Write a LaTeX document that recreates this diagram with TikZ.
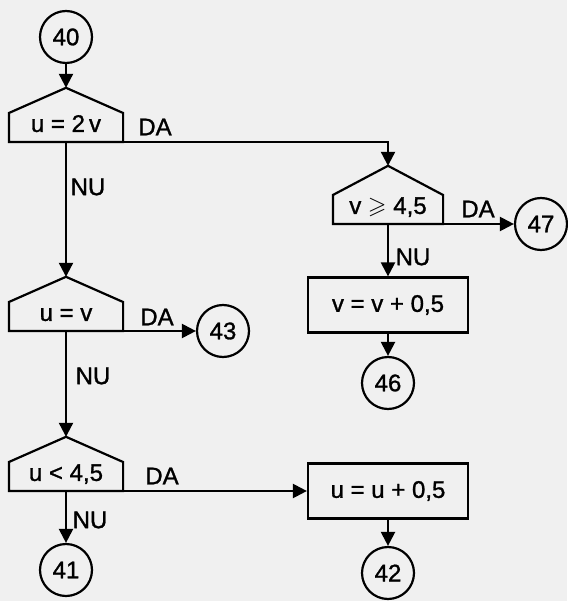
\documentclass[tikz,border=0pt]{standalone}
\usepackage{fontspec}
\setmainfont{Liberation Sans}[UprightFeatures={FakeBold=1.2}]
\usepackage{amssymb}
\usetikzlibrary{arrows.meta}

\begin{document}
\begin{tikzpicture}[x=1pt, y=-1pt, >={Triangle[length=14pt, width=14pt]},
  line width=2.2pt, font=\fontsize{24}{27}\selectfont,
  conn/.style={draw, circle, minimum size=52pt, inner sep=0pt},
  proc/.style={draw, rectangle, minimum width=160pt, minimum height=55pt, inner sep=0pt},
  decision/.style={inner sep=0pt, minimum width=112pt, text height=43pt, text depth=9pt,
    append after command={\pgfextra{\draw[line join=miter] (\tikzlastnode.south west)
      -- ([yshift=29pt]\tikzlastnode.south west) -- (\tikzlastnode.north)
      -- ([yshift=29pt]\tikzlastnode.south east) -- (\tikzlastnode.south east) -- cycle;}}},
  lbl/.style={inner sep=1pt}]

\fill[black!6] (0,0) rectangle (567,601);
\useasboundingbox (0,0) rectangle (567,601);

% --- left column ---
\node[conn] (c40) at (66,37) {40};
\node[decision, anchor=south] (d1) at (66,142) {u = 2\,v};
\node[lbl] (da1) at (155,127) {DA};
\node[lbl] (nu1) at (88,187) {NU};
\node[decision, anchor=south] (d2) at (66,331) {u = v};
\node[lbl] (da2) at (157,317) {DA};
\node[conn] (c43) at (223,331) {43};
\node[lbl] (nu2) at (93,376) {NU};
\node[decision, anchor=south] (d3) at (66,491) {u < 4,5};
\node[lbl] (da3) at (162,476) {DA};
\node[lbl] (nu3) at (90,520) {NU};
\node[conn] (c41) at (66,570) {41};

% --- right column ---
\node[decision, anchor=south, minimum width=108pt, text height=47pt] (d4) at (388,224) {v $\geqslant$ 4,5};
\node[lbl] (da4) at (478,209) {DA};
\node[conn] (c47) at (541,224) {47};
\node[lbl] (nu4) at (413,257) {NU};
\node[proc] (b1) at (388,305) {v = v + 0,5};
\node[conn] (c46) at (388,383) {46};
\node[proc] (b2) at (388,491) {u = u + 0,5};
\node[conn] (c42) at (388,573) {42};

% flow lines
\draw[->] (c40) -- (d1.north);
\draw[->] (d1.south) -- (d2.north);
\draw[->] (d1.south east) -| (d4.north);
\draw[->] (d2.south east) -- (c43.west);
\draw[->] (d2.south) -- (d3.north);
\draw[->] (d3.south east) -- (b2.west);
\draw[->] (d3.south) -- (c41);
\draw[->] (d4.south east) -- (c47.west);
\draw[->] (d4.south) -- (b1);
\draw[->] (b1) -- (c46);
\draw[->] (b2) -- (c42);

\end{tikzpicture}
\end{document}
